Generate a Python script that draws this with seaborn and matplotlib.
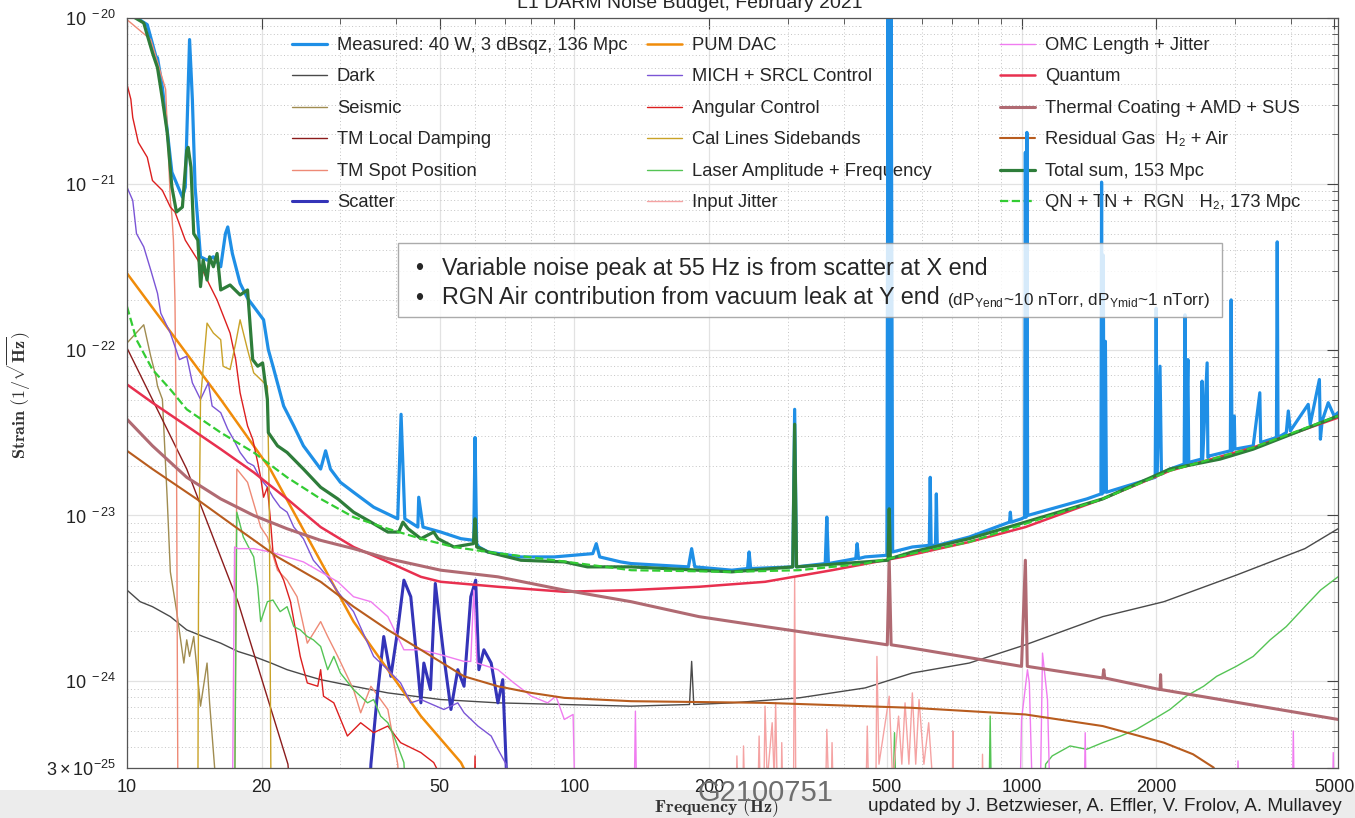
import numpy as np
import pandas as pd
import matplotlib
matplotlib.use("Agg")
import matplotlib.pyplot as plt
import matplotlib.ticker as mticker
from matplotlib.patches import Rectangle
import seaborn as sns

# (frequency [Hz], log10 strain [1/rtHz]).
# A value of -24.8 is below the bottom of the plot (curve leaves the axes).
measured = [(10, -19.95), (10.8, -20.02), (11.1, -20.04), (11.6, -20.23), (11.7, -20.24),
            (12.0, -20.42), (12.6, -20.93), (13.3, -21.08), (13.5, -21.02), (13.8, -20.13),
            (14.0, -20.49), (14.2, -21.02), (14.6, -21.44), (15.1, -21.46), (15.6, -21.44),
            (16.2, -21.50), (16.6, -21.30), (16.8, -21.26), (17.2, -21.42), (17.9, -21.60),
            (18.6, -21.69), (20.2, -21.82), (20.7, -22.00), (21.2, -22.10), (22.4, -22.34),
            (23.6, -22.46), (24.8, -22.58), (27.1, -22.72), (27.8, -22.61), (28.5, -22.72),
            (30.0, -22.80), (32.1, -22.86), (35.6, -22.95), (40.3, -23.02), (41.0, -22.39),
            (41.8, -23.02), (44.7, -23.07), (44.9, -22.89), (45.9, -23.07), (50.3, -23.10),
            (55.8, -23.14), (59.6, -23.15), (60.0, -22.53), (60.5, -23.17), (61.2, -23.19),
            (64.1, -23.22), (76.0, -23.25), (90.2, -23.25), (110, -23.23), (112, -23.17),
            (114, -23.25), (127, -23.28), (134, -23.29), (180, -23.31), (183, -23.20),
            (186, -23.31), (225, -23.33), (244, -23.32), (246, -23.22), (248, -23.32),
            (308, -23.31), (311, -22.36), (314, -23.31), (364, -23.29), (367, -23.01),
            (370, -23.29), (426, -23.26), (429, -23.17), (432, -23.26), (447, -23.25),
            (500, -23.24), (503, -19.9), (507, -23.23), (511, -19.9), (515, -23.22),
            (570, -23.19), (622, -23.18), (625, -22.77), (628, -23.18), (642, -23.18),
            (645, -22.87), (648, -23.18), (764, -23.13), (940, -23.04), (944, -22.98),
            (948, -23.04), (1000, -23.02), (1016, -23.01), (1020, -20.81), (1024, -23.01),
            (1028, -20.69), (1032, -23.00), (1400, -22.90), (1505, -22.87), (1510, -20.99),
            (1515, -22.87), (1523, -21.43), (1530, -22.86), (1540, -21.95), (1548, -22.86),
            (1990, -22.77), (2000, -21.75), (2010, -22.76), (2040, -22.10), (2055, -22.75),
            (2147, -22.72), (2310, -22.69), (2320, -21.79), (2330, -22.69), (2355, -22.06),
            (2365, -22.68), (2525, -22.66), (2533, -22.19), (2541, -22.66), (2600, -22.08),
            (2610, -22.65), (2640, -22.64), (2930, -22.61), (2942, -21.70), (2955, -22.61),
            (2990, -22.40), (3000, -22.60), (3296, -22.58), (3410, -22.26), (3425, -22.56),
            (3715, -22.53), (3730, -21.35), (3745, -22.53), (3908, -22.50), (3949, -22.37),
            (3990, -22.49), (4375, -22.33), (4420, -22.45), (4634, -22.18), (4658, -22.54),
            (4700, -22.43), (4850, -22.32), (5000, -22.40), (5100, -22.38)]

dark = [(10, -23.45), (10.7, -23.52), (11.4, -23.55), (12.5, -23.61), (13.6, -23.69),
        (14.8, -23.73), (16.2, -23.77), (17.7, -23.82), (19.2, -23.85), (21.0, -23.89),
        (22.8, -23.93), (24.8, -23.96), (27.1, -23.99), (32.1, -24.03), (38.3, -24.07),
        (50.3, -24.11), (67.5, -24.13), (95, -24.14), (134, -24.15), (181, -24.14),
        (183, -23.88), (185, -24.14), (225, -24.13), (318, -24.10), (377, -24.07),
        (447, -24.04), (570, -23.95), (764, -23.89), (1020, -23.78), (1519, -23.61),
        (2081, -23.52), (3020, -23.36), (4300, -23.20), (5100, -23.08)]

seismic = [(10, -21.96), (10.9, -21.85), (11.3, -22.04), (11.6, -22.16), (11.7, -22.22),
           (12.0, -22.30), (12.3, -22.90), (12.5, -23.34), (12.9, -23.57), (13.4, -23.89),
           (13.6, -23.75), (13.8, -23.85), (14.1, -23.73), (14.6, -24.15), (15.1, -23.89),
           (15.3, -24.13), (15.7, -24.52), (16.0, -24.8)]

tm_damping = [(10, -21.99), (13.6, -22.72), (17.7, -23.52), (22.9, -24.50), (23.4, -24.8)]

tm_spot = [(10, -20.01), (11.3, -20.13), (12.2, -20.43), (12.5, -21.10), (12.6, -21.19),
           (12.7, -21.34), (12.8, -21.70), (12.9, -22.57), (13.0, -24.8), (17.4, -24.8),
           (17.6, -22.72), (18.6, -22.80), (19.9, -23.07), (20.6, -23.13), (21.7, -23.33),
           (22.8, -23.39), (24.0, -23.49), (25.3, -23.77), (27.1, -23.64), (28.1, -23.73),
           (29.6, -23.85), (32.1, -24.05), (33.3, -24.19), (35.1, -24.03), (38.3, -24.17),
           (40.3, -24.50), (40.9, -24.8)]

scatter = [(34.7, -24.8), (35.1, -24.50), (36.2, -24.11), (37.5, -23.73), (38.9, -23.97),
           (40.3, -23.69), (41.6, -23.39), (43.1, -23.49), (44.7, -23.93), (45.4, -24.13),
           (46.1, -23.89), (47.7, -24.05), (48.9, -23.41), (51.1, -23.85), (53.0, -24.17),
           (54.9, -23.93), (56.7, -24.03), (58.7, -23.49), (60.2, -23.39), (61.2, -23.93),
           (62.8, -23.81), (65.2, -23.89), (67.5, -24.13), (69.2, -23.99), (70.4, -24.49),
           (71.0, -24.8)]

pum_dac = [(10, -21.54), (16.2, -22.30), (20.9, -22.72), (32.1, -23.64), (45.4, -24.21),
           (55.8, -24.49), (57.5, -24.56)]

mich_srcl = [(10, -21.02), (10.3, -21.10), (10.5, -21.30), (10.9, -21.38), (11.3, -21.52),
             (11.7, -21.66), (11.9, -21.78), (12.5, -21.90), (13.1, -22.06), (13.6, -22.04),
             (14.0, -22.20), (14.6, -22.30), (15.2, -22.20), (15.5, -22.34), (16.2, -22.38),
             (16.8, -22.48), (17.3, -22.54), (17.9, -22.62), (18.6, -22.68), (19.2, -22.70),
             (19.9, -22.78), (20.6, -22.83), (21.2, -22.89), (22.0, -22.95), (22.8, -22.98),
             (23.6, -23.07), (24.8, -23.14), (26.1, -23.27), (28.1, -23.37), (29.6, -23.46),
             (32.1, -23.58), (35.6, -23.85), (38.3, -23.93), (40.9, -24.01), (43.1, -24.13),
             (45.4, -24.11), (51.1, -24.17), (54.9, -24.13), (56.7, -24.19), (60.9, -24.27),
             (65.2, -24.33), (67.5, -24.41), (70.4, -24.50), (71.4, -24.8)]

angular = [(10, -20.40), (10.2, -20.49), (10.3, -20.60), (10.6, -20.75), (11.1, -20.84),
           (11.4, -20.98), (12.0, -21.04), (12.5, -21.14), (12.8, -21.17), (13.5, -21.34),
           (14.4, -21.46), (15.3, -21.61), (15.9, -21.70), (17.0, -21.90), (17.5, -22.06),
           (17.9, -22.26), (18.6, -22.46), (19.1, -22.54), (19.6, -22.68), (19.9, -22.77),
           (20.2, -22.89), (20.6, -22.83), (20.9, -23.01), (21.2, -23.22), (21.7, -23.31),
           (22.4, -23.39), (23.2, -23.52), (24.4, -23.85), (25.3, -24.01), (26.7, -24.03),
           (27.1, -23.93), (27.5, -24.09), (29.0, -24.13), (31.1, -24.33), (33.3, -24.25),
           (35.6, -24.31), (38.3, -24.27), (40.9, -24.37), (45.4, -24.43), (48.5, -24.49),
           (50.0, -24.56), (52.0, -24.8), (59.7, -24.8), (60.0, -24.45), (60.3, -24.8)]

cal_lines = [(14.4, -24.8), (14.45, -23.51), (14.6, -22.30), (15.1, -21.84), (15.6, -21.90),
             (16.2, -21.94), (16.4, -22.10), (17.0, -22.12), (17.5, -21.96), (17.9, -21.82),
             (18.6, -22.00), (19.2, -22.14), (19.9, -22.18), (20.6, -22.22), (20.8, -22.90),
             (21.0, -24.8)]

laser = [(17.4, -24.8), (17.6, -22.98), (18.2, -23.13), (19.2, -23.25), (19.6, -23.43),
         (19.9, -23.64), (20.6, -23.52), (21.2, -23.51), (22.0, -23.58), (22.8, -23.55),
         (23.6, -23.67), (24.4, -23.69), (25.3, -23.73), (26.1, -23.75), (27.1, -23.79),
         (28.1, -23.93), (29.0, -23.85), (30.0, -23.95), (32.1, -24.05), (34.5, -24.13),
         (35.6, -24.11), (36.9, -24.21), (38.3, -24.25), (39.5, -24.33), (41.6, -24.49),
         (42.2, -24.8), (515, -24.8), (520, -24.31), (525, -24.8), (845, -24.8),
         (851, -24.21), (857, -24.8), (1120, -24.8), (1132, -24.50), (1171, -24.45),
         (1284, -24.39), (1398, -24.41), (1519, -24.37), (1666, -24.33), (1807, -24.29),
         (2000, -24.22), (2147, -24.17), (2333, -24.09), (2553, -24.03), (2731, -23.97),
         (3020, -23.91), (3296, -23.85), (3597, -23.75), (3908, -23.67), (4300, -23.55),
         (4662, -23.45), (5100, -23.37)]

input_jitter = [(230, -24.8), (231, -24.45), (233, -24.8), (238, -24.8), (239, -24.39),
                (241, -24.8), (257, -24.8), (259, -24.33), (261, -24.8), (265, -24.8),
                (267, -24.15), (270, -24.6), (277, -24.25), (280, -24.6), (282, -24.13),
                (285, -24.8), (290, -24.8), (291, -24.37), (293, -24.8), (309, -24.8),
                (311, -23.37), (313, -24.8), (364, -24.8), (367, -24.29), (372, -24.8),
                (375, -24.8), (377, -24.37), (380, -24.8), (448, -24.8), (452, -24.27),
                (456, -24.8), (472, -24.8), (475, -23.85), (480, -24.5), (506, -24.09),
                (515, -24.6), (531, -24.21), (540, -24.5), (549, -24.13), (560, -24.5),
                (570, -24.07), (580, -24.5), (590, -24.11), (605, -24.5), (620, -24.25),
                (640, -24.8), (700, -24.8), (702, -24.30), (705, -24.8), (815, -24.8),
                (818, -24.44), (822, -24.8)]

omc = [(17.2, -24.8), (17.4, -23.19), (17.7, -23.20), (19.2, -23.20), (20.9, -23.22),
       (22.8, -23.25), (24.8, -23.28), (27.1, -23.34), (29.6, -23.40), (32.1, -23.49),
       (35.1, -23.52), (38.3, -23.61), (41.6, -23.81), (45.4, -23.81), (50.3, -23.84),
       (56.7, -23.88), (58.7, -23.88), (59.6, -23.45), (60.6, -23.89), (67.5, -23.93),
       (73.3, -24.01), (80.2, -24.09), (87.2, -24.13), (91.0, -24.09), (95, -24.23),
       (99.4, -24.20), (100.5, -24.8), (136, -24.8), (137, -24.18), (138, -24.8),
       (991, -24.8), (1000, -24.23), (1031, -23.93), (1041, -24.01), (1060, -24.8),
       (1100, -24.8), (1114, -23.83), (1143, -24.11), (1160, -24.8), (1380, -24.8),
       (1388, -24.31), (1396, -24.8), (3030, -24.8), (3048, -24.48), (3066, -24.8),
       (4030, -24.8), (4052, -24.30), (4075, -24.8), (4950, -24.8), (4977, -24.43),
       (5005, -24.8)]

quantum = [(10, -22.21), (11.4, -22.32), (13.6, -22.46), (16.2, -22.60), (19.2, -22.74),
           (22.8, -22.90), (27.1, -23.07), (32.1, -23.19), (38.3, -23.28), (45.4, -23.37),
           (50.3, -23.40), (67.5, -23.43), (95, -23.46), (134, -23.45), (190, -23.43),
           (267, -23.40), (377, -23.33), (541, -23.25), (764, -23.16), (1020, -23.07),
           (1519, -22.90), (2147, -22.73), (3296, -22.59), (5100, -22.41)]

thermal = [(10, -22.42), (11.4, -22.58), (13.6, -22.77), (16.2, -22.90), (19.2, -23.00),
           (22.8, -23.08), (27.1, -23.15), (32.1, -23.20), (38.3, -23.26), (50.3, -23.33),
           (67.5, -23.37), (95, -23.45), (134, -23.52), (190, -23.61), (267, -23.67),
           (318, -23.70), (501, -23.78), (506, -23.27), (511, -23.78), (541, -23.79),
           (1000, -23.91), (1020, -23.27), (1030, -23.91), (1519, -23.98), (1527, -23.93),
           (1535, -23.98), (2040, -24.05), (2046, -23.96), (2052, -24.05), (5100, -24.23)]

residual_gas = [(10, -22.61), (11.4, -22.72), (14.3, -22.90), (17.7, -23.08), (21.7, -23.25),
                (27.1, -23.40), (32.1, -23.55), (38.3, -23.69), (45.4, -23.81), (56.7, -23.97),
                (67.5, -24.03), (80.2, -24.07), (95, -24.10), (134, -24.12), (267, -24.13),
                (570, -24.16), (1020, -24.20), (1519, -24.27), (2081, -24.37), (2418, -24.44),
                (2688, -24.52), (2830, -24.65)]

total_sum = [(10, -19.97), (10.9, -20.03), (11.4, -20.21), (11.7, -20.30), (12.0, -20.49),
             (12.3, -20.69), (12.6, -21.02), (12.9, -21.17), (13.3, -21.14), (13.6, -20.80),
             (13.7, -20.78), (13.9, -20.90), (14.1, -21.30), (14.4, -21.34), (14.6, -21.62),
             (14.8, -21.46), (15.1, -21.58), (15.3, -21.44), (15.6, -21.50), (15.9, -21.42),
             (16.2, -21.64), (17.0, -21.61), (17.9, -21.67), (18.6, -21.64), (19.1, -22.06),
             (19.6, -22.10), (20.1, -22.08), (20.6, -22.30), (20.7, -22.50), (21.7, -22.58),
             (22.8, -22.62), (24.8, -22.72), (27.1, -22.83), (29.6, -22.90), (32.1, -22.98),
             (35.1, -23.04), (38.3, -23.10), (40.5, -23.10), (41.4, -23.04), (42.5, -23.08),
             (45.4, -23.14), (48.5, -23.10), (49.6, -23.14), (53.8, -23.19), (59.5, -23.17),
             (60.0, -23.02), (60.5, -23.19), (61.9, -23.20), (64.1, -23.22), (76.0, -23.27),
             (95, -23.28), (107, -23.31), (134, -23.31), (225, -23.34), (308, -23.31),
             (311, -22.45), (314, -23.31), (447, -23.28), (503, -23.27), (506, -22.96),
             (509, -23.26), (570, -23.22), (764, -23.14), (1020, -23.04), (1519, -22.90),
             (2147, -22.72), (2780, -22.66), (3296, -22.60), (5100, -22.40)]

qn_tn_rgn = [(10, -21.74), (10.5, -21.94), (11.4, -22.12), (12.5, -22.24), (13.6, -22.36),
             (16.2, -22.50), (19.2, -22.62), (22.8, -22.77), (27.1, -22.90), (32.1, -23.01),
             (38.3, -23.08), (45.4, -23.14), (53.8, -23.19), (64.1, -23.22), (90.2, -23.27),
             (134, -23.33), (225, -23.34), (318, -23.33), (447, -23.29), (570, -23.23),
             (764, -23.16), (1020, -23.05), (1519, -22.90), (2147, -22.73), (3296, -22.59),
             (5100, -22.40)]

x_ticks = [10, 20, 50, 100, 200, 500, 1000, 2000, 5000]
x_minor = [30, 40, 60, 70, 80, 90, 300, 400, 600, 700, 800, 900, 3000, 4000]
y_ticks = [3e-25, 1e-24, 1e-23, 1e-22, 1e-21, 1e-20]
y_ticklabels = [r"$\mathdefault{3\times10^{-25}}$", r"$\mathdefault{10^{\ -24}}$",
                r"$\mathdefault{10^{\ -23}}$", r"$\mathdefault{10^{\ -22}}$",
                r"$\mathdefault{10^{\ -21}}$", r"$\mathdefault{10^{\ -20}}$"]

sns.set_style("white")
plt.rcParams["font.family"] = ["Liberation Sans", "DejaVu Sans"]
plt.rcParams["mathtext.fontset"] = "cm"

# label, data, colour, line width, line style  (drawing order)
curves = [
    ("Measured: 40 W, 3 dBsqz, 136 Mpc", measured, "#1f8fe6", 2.3, "-"),
    ("Dark", dark, "#4a4a4a", 1.0, "-"),
    ("Seismic", seismic, "#a08c50", 1.0, "-"),
    ("TM Local Damping", tm_damping, "#8b1c1c", 1.0, "-"),
    ("TM Spot Position", tm_spot, "#ee8a76", 1.0, "-"),
    ("Scatter", scatter, "#3434b8", 2.2, "-"),
    ("PUM DAC", pum_dac, "#f08c0a", 1.8, "-"),
    ("MICH + SRCL Control", mich_srcl, "#7b55d6", 1.0, "-"),
    ("Angular Control", angular, "#dc1f1f", 1.0, "-"),
    ("Cal Lines Sidebands", cal_lines, "#c9a227", 1.0, "-"),
    ("Laser Amplitude + Frequency", laser, "#55c455", 1.0, "-"),
    ("Input Jitter", input_jitter, "#f5a3a3", 1.0, "-"),
    ("OMC Length + Jitter", omc, "#f07cf0", 1.0, "-"),
    ("Quantum", quantum, "#e8304f", 1.8, "-"),
    ("Thermal Coating + AMD + SUS", thermal, "#b06a72", 2.2, "-"),
    ("Residual Gas  H\u2082 + Air", residual_gas, "#b85c1e", 1.5, "-"),
    ("Total sum, 153 Mpc", total_sum, "#2e7d3a", 2.3, "-"),
    ("QN + TN +  RGN   H\u2082, 173 Mpc", qn_tn_rgn, "#33cc33", 1.6, "--"),
]

fig = plt.figure(figsize=(13.55, 8.18), dpi=100)
ax = fig.add_axes([127 / 1355, 1 - 768 / 818, 1211 / 1355, 750 / 818])

lines = {}
for label, pts, col, lw, ls in curves:
    df = pd.DataFrame(pts, columns=["f", "logh"])
    df["h"] = 10.0 ** df["logh"]
    sns.lineplot(data=df, x="f", y="h", ax=ax, color=col, linewidth=lw,
                 estimator=None, sort=False, legend=False)
    ln = ax.lines[-1]
    ln.set_linestyle(ls)
    ln.set_label(label)
    lines[label] = ln

ax.set_xscale("log")
ax.set_yscale("log")
ax.set_xlim(10, 5100)
ax.set_ylim(3e-25, 1e-20)

ax.xaxis.set_major_locator(mticker.FixedLocator(x_ticks))
ax.xaxis.set_major_formatter(mticker.FixedFormatter([str(v) for v in x_ticks]))
ax.xaxis.set_minor_locator(mticker.FixedLocator(x_minor))
ax.xaxis.set_minor_formatter(mticker.NullFormatter())
ax.yaxis.set_major_locator(mticker.FixedLocator(y_ticks))
ax.yaxis.set_major_formatter(mticker.FixedFormatter(y_ticklabels))
ax.yaxis.set_minor_locator(mticker.LogLocator(base=10, subs=np.arange(2, 10), numticks=20))
ax.yaxis.set_minor_formatter(mticker.NullFormatter())

ax.set_axisbelow(True)
ax.grid(which="major", color="#e2e2e2", lw=0.9, ls="-")
ax.grid(which="minor", color="#c4c4c4", lw=0.7, ls=(0, (1, 2.5)))
ax.tick_params(which="both", direction="in", top=True, right=True, color="#444444",
               labelcolor="#222222", labelsize=13, pad=8)
ax.tick_params(which="major", length=8)
ax.tick_params(which="minor", length=4)
for s in ax.spines.values():
    s.set_color("#555555")
    s.set_linewidth(0.9)

ax.set_xlabel(r"$\mathbf{Frequency\ (Hz)}$", fontsize=13, color="#333333")
ax.xaxis.set_label_coords(0.487, -0.038)
ax.set_ylabel(r"$\mathbf{Strain\ (1/\sqrt{Hz})}$", fontsize=13, color="#333333")
ax.yaxis.set_label_coords(-0.0776, 0.497)

# legend as three separate columns
cols = [
    ["Measured: 40 W, 3 dBsqz, 136 Mpc", "Dark", "Seismic", "TM Local Damping",
     "TM Spot Position", "Scatter"],
    ["PUM DAC", "MICH + SRCL Control", "Angular Control", "Cal Lines Sidebands",
     "Laser Amplitude + Frequency", "Input Jitter"],
    ["OMC Length + Jitter", "Quantum", "Thermal Coating + AMD + SUS",
     "Residual Gas  H\u2082 + Air", "Total sum, 153 Mpc", "QN + TN +  RGN   H\u2082, 173 Mpc"],
]
col_x = [292, 647, 1000]
for i, (names, x0) in enumerate(zip(cols, col_x)):
    leg = ax.legend(handles=[lines[n] for n in names], loc="upper left",
                    bbox_to_anchor=(x0 / 1355, 1 - 37 / 818), bbox_transform=fig.transFigure,
                    frameon=False, fontsize=13.2, handlelength=1.9, handletextpad=0.55,
                    labelspacing=0.79, borderpad=0, borderaxespad=0)
    leg.set_zorder(1)
    if i < 2:
        ax.add_artist(leg)

# annotation box
fig.add_artist(Rectangle((398 / 1355, 1 - 317 / 818), 824 / 1355, 74 / 818,
                         transform=fig.transFigure, facecolor="white", alpha=0.82,
                         edgecolor="#999999", lw=1.0, zorder=3))
fig.text(415 / 1355, 1 - 268 / 818, "•", fontsize=16.5, va="center", zorder=4)
fig.text(442 / 1355, 1 - 268 / 818, "Variable noise peak at 55 Hz is from scatter at X end",
         fontsize=16.8, va="center", zorder=4)
fig.text(415 / 1355, 1 - 298 / 818, "•", fontsize=16.5, va="center", zorder=4)
t2 = fig.text(442 / 1355, 1 - 298 / 818, "RGN Air contribution from vacuum leak at Y end",
              fontsize=16.8, va="center", zorder=4)
fig.add_artist(plt.Annotation(
    r"(dP$_{\mathdefault{Yend}}$~10 nTorr, dP$_{\mathdefault{Ymid}}$~1 nTorr)",
    xy=(1, 0), xycoords=t2, xytext=(5, 0), textcoords="offset points",
    fontsize=12.3, va="bottom", zorder=4))

# title (cut off at the top edge) and footer texts
fig.text(0.509, 1 - 8 / 818, "L1 DARM Noise Budget, February 2021", ha="center",
         va="baseline", fontsize=14)
fig.add_artist(Rectangle((0, 0), 1, 28 / 818, transform=fig.transFigure,
                         facecolor="#ececec", edgecolor="none", zorder=0))
fig.text(765 / 1355, 1 - 793 / 818, "G2100751", ha="center", va="center",
         fontsize=21, color="#6e6e6e", zorder=5)
fig.text(868 / 1355, 1 - 811 / 818,
         "updated by J. Betzwieser, A. Effler, V. Frolov, A. Mullavey",
         ha="left", va="baseline", fontsize=13.6, color="#222222", zorder=5)

fig.savefig("out.png", dpi=100)
